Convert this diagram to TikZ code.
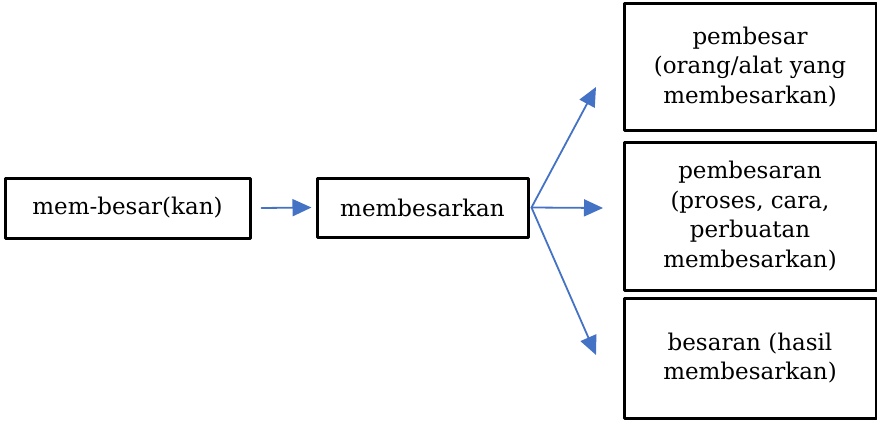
\documentclass[tikz,border=0pt]{standalone}
\usepackage{fontspec}
\setmainfont{DejaVu Serif}
\usetikzlibrary{arrows.meta}

\definecolor{arrowblue}{RGB}{68,114,196}

\tikzset{
  wordbox/.style={draw=black, line width=3pt, align=center,
    font=\fontsize{23}{29.5}\selectfont, inner sep=0pt},
  arr/.style={arrowblue, line width=1.8pt,
    -{Triangle[length=19pt,width=17pt]}}
}

\begin{document}
\begin{tikzpicture}[x=1pt, y=-1pt, line cap=round, line join=round]

% Frame of the picture (pixel units, y downwards)
\useasboundingbox (0,0) rectangle (877,420);

% Root word and verb
\node[wordbox, minimum width=245pt, minimum height=60pt] (root) at (127.5,208) {mem-besar(kan)};
\node[wordbox, minimum width=211pt, minimum height=59pt] (verb) at (422.5,207.5) {membesarkan};

% Derived nouns on the right
\node[wordbox, minimum width=252pt, minimum height=126pt] (agent) at (750,67)
  {pembesar\\(orang/alat yang\\membesarkan)};
\node[wordbox, minimum width=252pt, minimum height=148pt] (process) at (750,216)
  {pembesaran\\(proses, cara,\\perbuatan\\membesarkan)};
\node[wordbox, minimum width=252pt, minimum height=120pt] (result) at (750,358)
  {besaran (hasil\\membesarkan)};

% Free ends of the branching arrows
\coordinate (toagent) at (596,87);
\coordinate (toprocess) at (603,208);
\coordinate (toresult) at (596,355);

% Arrows
\draw[arr] ([xshift=10pt]root.east) -- ([xshift=-4pt]verb.west);
\draw[arr] ([xshift=2pt]verb.east) -- (toagent);
\draw[arr] ([xshift=2pt]verb.east) -- (toprocess);
\draw[arr] ([xshift=2pt]verb.east) -- (toresult);

\end{tikzpicture}
\end{document}
